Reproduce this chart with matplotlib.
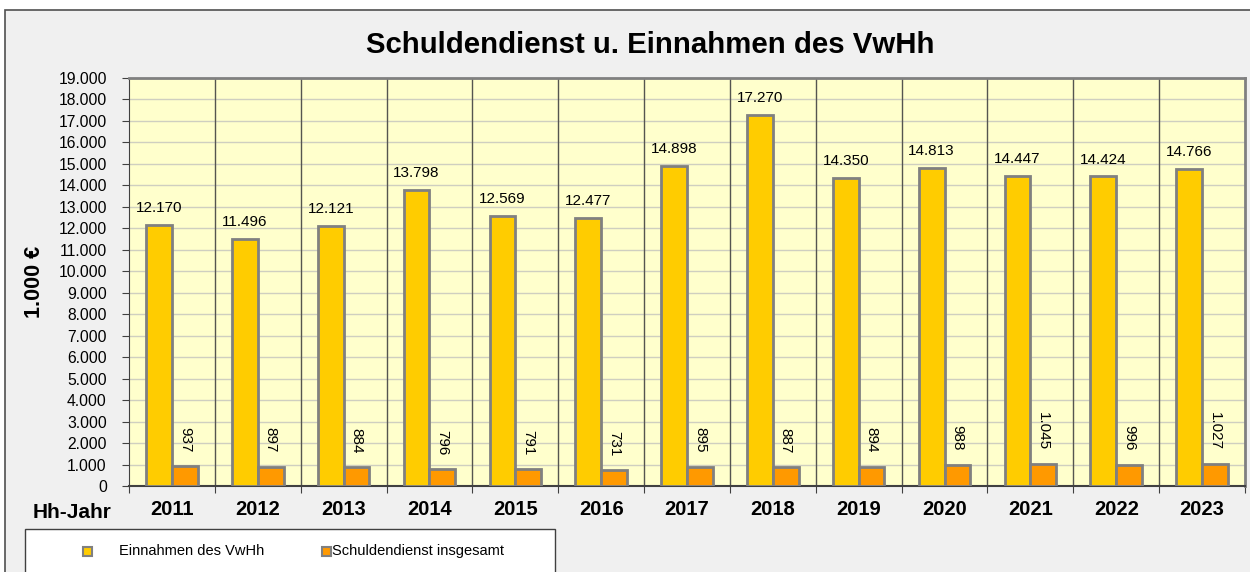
import matplotlib
matplotlib.use("Agg")
import matplotlib.pyplot as plt
from matplotlib.patches import Rectangle
import numpy as np

plt.rcParams['font.family'] = ['Liberation Sans', 'DejaVu Sans']

# data
jahre = ["2011", "2012", "2013", "2014", "2015", "2016", "2017", "2018",
         "2019", "2020", "2021", "2022", "2023"]
einnahmen = [12170, 11496, 12121, 13798, 12569, 12477, 14898, 17270,
             14350, 14813, 14447, 14424, 14766]
schuldendienst = [937, 897, 884, 796, 791, 731, 895, 887, 894, 988, 1045, 996, 1027]
yticks = list(range(0, 19001, 1000))

def fmt(v):
    return f"{v:,}".replace(",", ".")

fig = plt.figure(figsize=(12.5, 5.72), dpi=100, facecolor="white")

# grey chart area with border
fig.patches.append(Rectangle((5 / 1250, -0.01), 1.0, 1 - 10 / 572 + 0.01,
                             transform=fig.transFigure, facecolor="#F0F0F0",
                             edgecolor="#505050", linewidth=1.2, zorder=-2))

ax = fig.add_axes([129 / 1250, 1 - 486 / 572, (1245 - 129) / 1250, (486 - 78) / 572])
ax.set_zorder(1)
ax.set_facecolor("#FFFFCC")

x = np.arange(len(jahre))
w = 0.3
b1 = ax.bar(x - w / 2, einnahmen, w, color="#FFCC00", edgecolor="#808080",
            linewidth=2, zorder=3, label="Einnahmen des VwHh")
b2 = ax.bar(x + w / 2, schuldendienst, w, color="#FF9900", edgecolor="#808080",
            linewidth=2, zorder=3, label="Schuldendienst insgesamt")

for xi, v in zip(x, einnahmen):
    ax.annotate(fmt(v), (xi - w / 2, v), xytext=(0, 7), textcoords="offset points",
                ha="center", va="bottom", fontsize=11, zorder=4)
for xi, v in zip(x, schuldendienst):
    ax.annotate(fmt(v), (xi + w / 2, v), xytext=(0, 10), textcoords="offset points",
                ha="center", va="bottom", rotation=-90, fontsize=11, zorder=4)

ax.set_xlim(-0.5, len(jahre) - 0.5)
ax.set_ylim(0, 19000)
ax.set_yticks(yticks)
ax.set_yticklabels([fmt(t) for t in yticks], fontsize=11.3)
ax.yaxis.grid(True, color="#CFCFC0", linewidth=1, zorder=1)
ax.set_axisbelow(True)

# category separators
for b in np.arange(0.5, len(jahre) - 1, 1):
    ax.axvline(b, color="#555550", linewidth=1, zorder=2)

ax.set_xticks(np.arange(-0.5, len(jahre), 1))
ax.set_xticklabels([])
ax.set_xticks(x, minor=True)
ax.set_xticklabels(jahre, minor=True, fontsize=14.5, fontweight="bold")
ax.tick_params(axis="x", which="minor", length=0, pad=10)
ax.tick_params(axis="x", which="major", length=5, color="#404040")
ax.tick_params(axis="y", length=5, color="#404040", pad=11)

for s in ["top", "right"]:
    ax.spines[s].set_color("#808080")
    ax.spines[s].set_linewidth(2)
ax.spines["left"].set_color("#404040")
ax.spines["bottom"].set_color("#404040")
ax.spines["bottom"].set_linewidth(1.5)

ax.set_ylabel("1.000 €", fontsize=15.5, fontweight="bold", va="center")
ax.yaxis.set_label_coords((34 - 129) / (1245 - 129), 0.5)

fig.text(650 / 1250, 1 - 45 / 572, "Schuldendienst u. Einnahmen des VwHh",
         ha="center", va="center", fontsize=21.2, fontweight="bold")
fig.text(72 / 1250, 1 - 512 / 572, "Hh-Jahr", ha="center", va="center",
         fontsize=15, fontweight="bold")

# legend box drawn by hand (Excel style)
fig.patches.append(Rectangle((25 / 1250, -0.01), (555 - 25) / 1250, 1 - 529 / 572 + 0.01,
                             transform=fig.transFigure, facecolor="white",
                             edgecolor="#404040", linewidth=1, zorder=-1))
ly = 1 - 551 / 572
sq_w, sq_h = 9 / 1250, 9 / 572
fig.patches.append(Rectangle((83 / 1250, ly - sq_h / 2), sq_w, sq_h, transform=fig.transFigure,
                             facecolor="#FFCC00", edgecolor="#808080", linewidth=1.5))
fig.text(119 / 1250, ly, "Einnahmen des VwHh", ha="left", va="center", fontsize=10.5)
fig.patches.append(Rectangle((322 / 1250, ly - sq_h / 2), sq_w, sq_h, transform=fig.transFigure,
                             facecolor="#FF9900", edgecolor="#808080", linewidth=1.5))
fig.text(332 / 1250, ly, "Schuldendienst insgesamt", ha="left", va="center", fontsize=10.5)

fig.savefig("out.png", dpi=100, facecolor=fig.get_facecolor())
